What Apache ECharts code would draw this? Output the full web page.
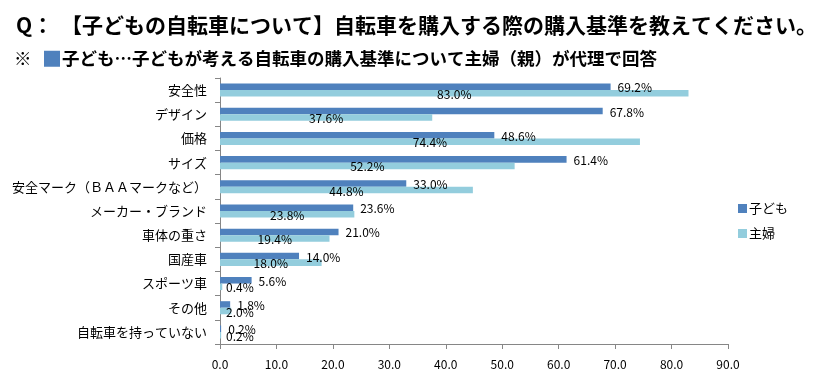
<!DOCTYPE html>
<html><head><meta charset="utf-8">
<script src="https://cdn.jsdelivr.net/npm/echarts@6/dist/echarts.min.js"></script>
<style>html,body{margin:0;padding:0;background:#fff}#c{width:840px;height:379px}</style>
</head><body><div id="c"></div>
<script>
var categories = ['安全性','デザイン','価格','サイズ','安全マーク（ＢＡＡマークなど）','メーカー・ブランド','車体の重さ','国産車','スポーツ車','その他','自転車を持っていない'];
var kodomo = [69.2, 67.8, 48.6, 61.4, 33.0, 23.6, 21.0, 14.0, 5.6, 1.8, 0.2];
var shufu = [83.0, 37.6, 74.4, 52.2, 44.8, 23.8, 19.4, 18.0, 0.4, 2.0, 0.2];
var xTicks = [0, 10, 20, 30, 40, 50, 60, 70, 80, 90];
var seriesNames = ['子ども', '主婦'];
var colors = ['#4F81BD', '#93CDDD'];
var FONT = '"Noto Sans CJK JP", sans-serif';

var chart = echarts.init(document.getElementById('c'));
var shufuData = shufu.map(function (v) {
  if (v < 5) {
    return { value: v, label: { position: 'insideLeft', distance: 6 } };
  }
  return v;
});
chart.setOption({
  animation: false,
  textStyle: { fontFamily: FONT },
  color: colors,
  title: [
    { text: '{q|Q：}【子どもの自転車について】自転車を購入する際の購入基準を教えてください。', left: 11, top: 10,
      textStyle: { fontSize: 21, fontWeight: 'bold', color: '#000', fontFamily: FONT,
        rich: { q: { width: 45, fontSize: 21, fontWeight: 'bold', color: '#000', fontFamily: FONT } } } },
    { text: '{a|※}{sq|}{sp|}子ども…子どもが考える自転車の購入基準について主婦（親）が代理で回答', left: 9, top: 45,
      textStyle: { fontSize: 17.5, fontWeight: 'bold', color: '#000', fontFamily: FONT,
        rich: {
          a: { width: 30, fontSize: 17.5, fontWeight: 'bold', color: '#000', fontFamily: FONT },
          sq: { width: 16, height: 16, backgroundColor: '#4F81BD' },
          sp: { width: 2 }
        } } }
  ],
  legend: {
    orient: 'vertical', left: 733, top: 197, itemWidth: 9, itemHeight: 9, itemGap: 12,
    icon: 'rect', data: seriesNames,
    textStyle: { fontSize: 13, color: '#000', fontFamily: FONT, padding: [0, 0, 0, -3] }
  },
  grid: { left: 220, right: 112, top: 78, bottom: 35, containLabel: false },
  xAxis: {
    type: 'value', min: xTicks[0], max: xTicks[xTicks.length - 1], interval: 10,
    splitLine: { show: false },
    axisLine: { show: true, lineStyle: { color: '#868686' } },
    axisTick: { show: true, length: 5, lineStyle: { color: '#868686' } },
    axisLabel: { fontSize: 12, color: '#000', margin: 14, formatter: function (v) { return v.toFixed(1); } }
  },
  yAxis: {
    type: 'category', data: categories, inverse: true,
    axisLine: { show: true, lineStyle: { color: '#868686' } },
    axisTick: { show: true, length: 5, lineStyle: { color: '#868686' } },
    axisLabel: { fontSize: 13, color: '#000', margin: 13 }
  },
  series: [
    { name: seriesNames[0], type: 'bar', data: kodomo, barGap: '0%', barCategoryGap: '46%',
      itemStyle: { color: colors[0] },
      label: { show: true, position: 'right', distance: 7, fontSize: 12, color: '#000', offset: [0, 1],
        formatter: function (p) { return p.value.toFixed(1) + '%'; } } },
    { name: seriesNames[1], type: 'bar', data: shufuData, barGap: '0%', barCategoryGap: '46%',
      itemStyle: { color: colors[1] },
      label: { show: true, position: 'inside', fontSize: 12, color: '#000', textBorderWidth: 0, offset: [0, 1],
        formatter: function (p) { return p.value.toFixed(1) + '%'; } } }
  ]
});
</script></body></html>
